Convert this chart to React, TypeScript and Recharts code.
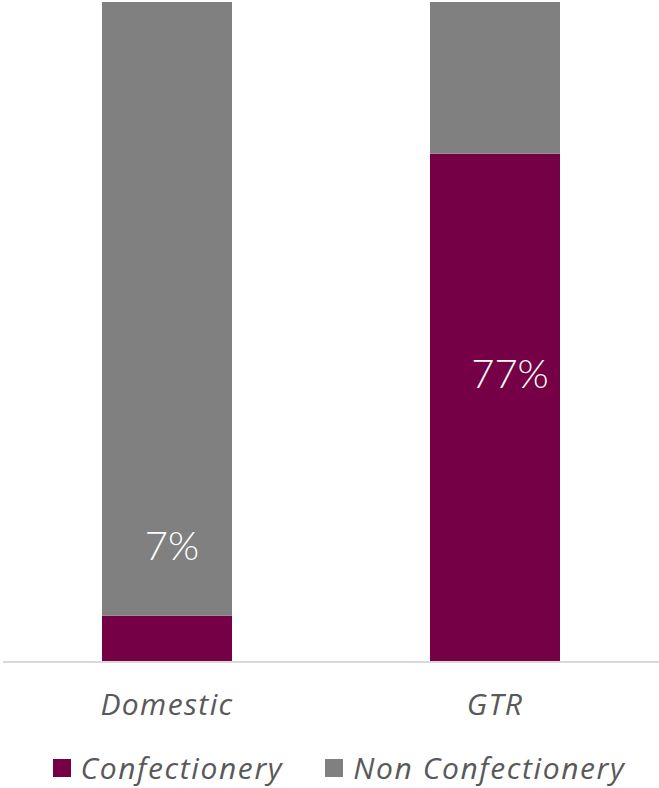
import { BarChart, Bar, XAxis, YAxis, Legend, LabelList } from 'recharts';

const categories = ['Domestic', 'GTR'];
const confectionery = [7, 77];
const nonConfectionery = [93, 23];
const labels = ['7%', '77%'];

const MAROON = '#750045';
const GREY = '#808080';
const TEXT = '#595959';
const LABEL_FONT = 'Lato, "Open Sans", sans-serif';
const FONT = '"Open Sans", Lato, sans-serif';

const data = categories.map((name, i) => ({
  name,
  conf: confectionery[i],
  non: nonConfectionery[i],
  label: labels[i],
}));

// Excel labels were dragged by hand, so nudge each one a bit
function PctLabel(props: any) {
  const { x, y, width, index, value } = props;
  const cx = x + width / 2 + (index === 0 ? 5 : 15);
  const cy = index === 0 ? y - 56 : y + 234;
  return (
    <text
      x={cx}
      y={cy}
      textAnchor="middle"
      fill="#ffffff"
      fontSize={40}
      fontWeight={300}
      fontFamily={LABEL_FONT}
    >
      {value}
    </text>
  );
}

function LegendBox() {
  const items = [
    { name: 'Confectionery', color: MAROON },
    { name: 'Non Confectionery', color: GREY },
  ];
  return (
    <div style={{ display: 'flex', justifyContent: 'center', gap: 42, paddingTop: 9, paddingLeft: 16 }}>
      {items.map((it) => (
        <div key={it.name} style={{ display: 'flex', alignItems: 'center' }}>
          <span style={{ width: 18, height: 18, background: it.color, marginRight: 10, display: 'inline-block' }} />
          <span
            style={{
              fontFamily: FONT,
              fontStyle: 'italic',
              fontSize: 30,
              letterSpacing: 1.6,
              color: TEXT,
              lineHeight: '34px',
            }}
          >
            {it.name}
          </span>
        </div>
      ))}
    </div>
  );
}

export default function App() {
  return (
    <div style={{ position: 'absolute', left: 0, top: 0, width: 659, height: 788, background: '#fff' }}>
      <BarChart width={659} height={788} data={data} margin={{ top: 2, right: 0, left: 3, bottom: 0 }}>
        <YAxis hide domain={[0, 100]} />
        <XAxis
          dataKey="name"
          height={80}
          axisLine={{ stroke: '#d9d9d9', strokeWidth: 2 }}
          tickLine={false}
          tickMargin={26}
          tick={{ fontSize: 30, fontStyle: 'italic', fill: TEXT, fontFamily: FONT, letterSpacing: 1.4 }}
        />
        <Legend verticalAlign="bottom" wrapperStyle={{ height: 46 }} content={<LegendBox />} />
        <Bar dataKey="conf" stackId="a" fill={MAROON} barSize={130} isAnimationActive={false}>
          <LabelList dataKey="label" content={<PctLabel />} />
        </Bar>
        <Bar dataKey="non" stackId="a" fill={GREY} barSize={130} isAnimationActive={false} />
      </BarChart>
    </div>
  );
}
